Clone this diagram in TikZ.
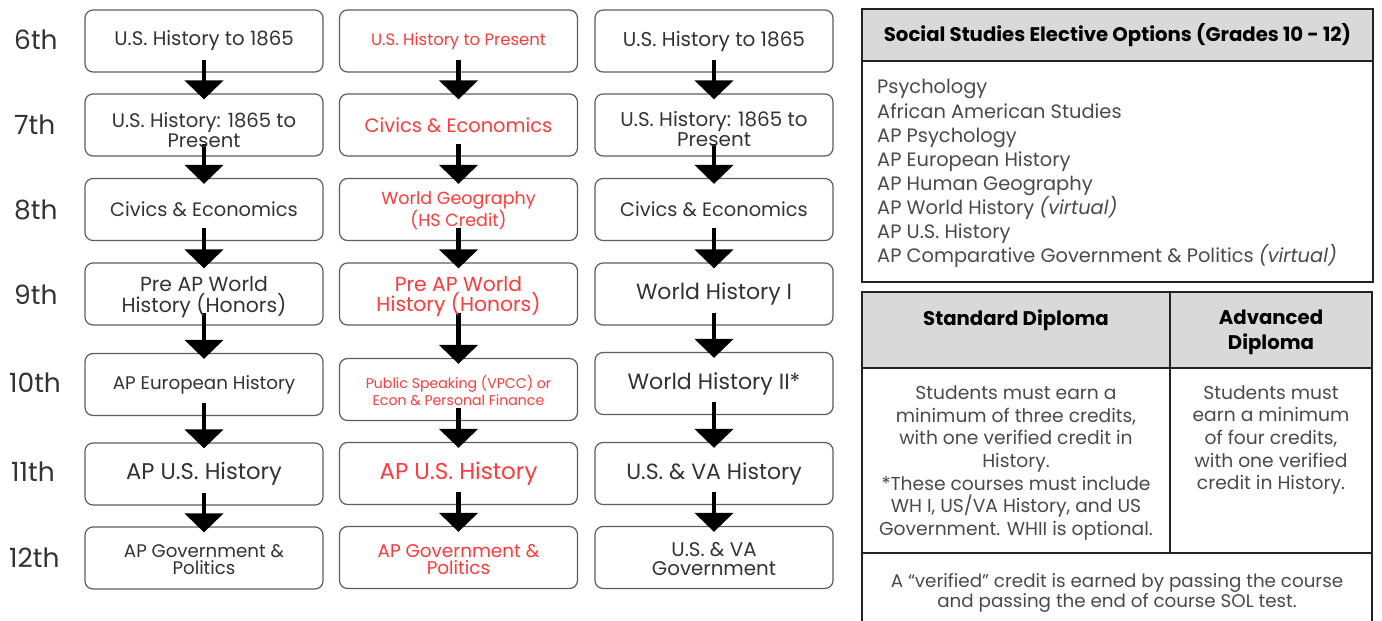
\documentclass[tikz,border=0pt]{standalone}
\usepackage{fontspec}
\setmainfont{Poppins}
\usetikzlibrary{arrows.meta}
\definecolor{txt}{HTML}{333333}
\definecolor{redt}{HTML}{FF3B3B}
\definecolor{boxc}{HTML}{5E5E5E}
\definecolor{hdr}{HTML}{D9D9D9}
\definecolor{tblc}{HTML}{222222}
\definecolor{bodyt}{HTML}{4A4A4A}
\newcommand\myfs[2]{\fontsize{#1}{#2}\selectfont}
\begin{document}
\begin{tikzpicture}[x=1pt,y=-1pt,
  cbox/.style={draw=boxc, line width=1.2pt, rounded corners=8pt, minimum width=238pt, minimum height=62pt, inner sep=0pt},
  ctxt/.style={align=center, inner sep=0pt, text=txt},
  rtxt/.style={ctxt, text=redt},
  grade/.style={anchor=west, text=txt, font=\myfs{26.5}{26.5}, inner sep=0pt},
  bigarrow/.style={line width=4.5pt, -{Triangle[width=38pt,length=19pt]}, black},
  tline/.style={tblc, line width=1.8pt},
  bodytxt/.style={text=bodyt, align=center, font=\myfs{18.7}{22.7}, inner sep=0pt},
  listtxt/.style={text=bodyt, anchor=west, font=\myfs{19.4}{19.4}, inner sep=0pt, text height=14pt, text depth=4pt},
  hdrtxt/.style={text=black, align=center, font=\bfseries\myfs{19.7}{25}, inner sep=0pt}
]
\useasboundingbox (0,0) rectangle (1382,621);
\fill[white] (0,0) rectangle (1382,621);

% grade labels
\node[grade] (g6) at (14,40) {6th};
\node[grade] (g7) at (14,125) {7th};
\node[grade] (g8) at (14,210) {8th};
\node[grade] (g9) at (14,295) {9th};
\node[grade] (g10) at (9,383) {10th};
\node[grade] (g11) at (11,472) {11th};
\node[grade] (g12) at (9,558) {12th};

% boxes
\node[cbox] (a6) at (204,41) {};
\node[cbox] (a7) at (204,125) {};
\node[cbox] (a8) at (204,209.5) {};
\node[cbox] (a9) at (204,294) {};
\node[cbox] (a10) at (204,384.5) {};
\node[cbox] (a11) at (204,474) {};
\node[cbox] (a12) at (204,558) {};
\node[cbox] (b6) at (458.5,41) {};
\node[cbox] (b7) at (458.5,125) {};
\node[cbox] (b8) at (458.5,209.5) {};
\node[cbox] (b9) at (458.5,294) {};
\node[cbox] (b10) at (458.5,389.5) {};
\node[cbox] (b11) at (458.5,473.5) {};
\node[cbox] (b12) at (458.5,557.5) {};
\node[cbox] (c6) at (714,41) {};
\node[cbox] (c7) at (714,125) {};
\node[cbox] (c8) at (714,209.5) {};
\node[cbox] (c9) at (714,294) {};
\node[cbox] (c10) at (714,383.5) {};
\node[cbox] (c11) at (714,473.5) {};
\node[cbox] (c12) at (714,557.5) {};

% arrows
\foreach \col in {a,b,c}{
  \foreach \r/\s in {6/7,7/8,8/9,9/10,10/11,11/12}{
    \draw[bigarrow] ([yshift=13pt]\col\r.south) -- ([yshift=-6pt]\col\s.north);
  }
}

% column 1 texts
\node[ctxt, font=\myfs{19.7}{19.7}] (a6t) at (a6.center) {U.S. History to 1865};
\node[ctxt, font=\myfs{19.6}{17}] (a7t) at ([yshift=-5pt]a7.center) {U.S. History: 1865 to\\Present};
\node[ctxt, font=\myfs{19.4}{19.4}] (a8t) at (a8.center) {Civics \& Economics};
\node[ctxt, font=\myfs{20.4}{18.5}] (a9t) at ([yshift=-3pt]a9.center) {Pre AP World\\History (Honors)};
\node[ctxt, font=\myfs{18.3}{18.3}] (a10t) at (a10.center) {AP European History};
\node[ctxt, font=\myfs{22.7}{22.7}] (a11t) at (a11.center) {AP U.S. History};
\node[ctxt, font=\myfs{18.2}{17}] (a12t) at ([yshift=-2pt]a12.center) {AP Government \&\\Politics};

% column 2 texts
\node[rtxt, font=\myfs{16.5}{16.5}] (b6t) at (b6.center) {U.S. History to Present};
\node[rtxt, font=\myfs{19.4}{19.4}] (b7t) at (b7.center) {Civics \& Economics};
\node[rtxt, font=\myfs{17.5}{17}] (b8t) at ([yshift=-1.5pt]b8.center) {World Geography\\(HS Credit)};
\node[rtxt, font=\myfs{20.3}{18}] (b9t) at ([yshift=-3pt]b9.center) {Pre AP World\\History (Honors)};
\node[rtxt, font=\myfs{14.1}{17}] (b10t) at ([yshift=-1pt]b10.center) {Public Speaking (VPCC) or\\Econ \& Personal Finance};
\node[rtxt, font=\myfs{23}{23}] (b11t) at (b11.center) {AP U.S. History};
\node[rtxt, font=\myfs{18.4}{17}] (b12t) at ([yshift=-2pt]b12.center) {AP Government \&\\Politics};

% column 3 texts
\node[ctxt, font=\myfs{20}{20}] (c6t) at (c6.center) {U.S. History to 1865};
\node[ctxt, font=\myfs{19.9}{18}] (c7t) at ([yshift=-4pt]c7.center) {U.S. History: 1865 to\\Present};
\node[ctxt, font=\myfs{19.4}{19.4}] (c8t) at (c8.center) {Civics \& Economics};
\node[ctxt, font=\myfs{22}{22}] (c9t) at (c9.center) {World History I};
\node[ctxt, font=\myfs{22.1}{22.1}] (c10t) at (c10.center) {World History II*};
\node[ctxt, font=\myfs{22}{22}] (c11t) at (c11.center) {U.S. \& VA History};
\node[ctxt, font=\myfs{19.8}{19}] (c12t) at ([yshift=-2pt]c12.center) {U.S. \& VA\\Government};

% elective table
\fill[hdr] (862,9) rectangle (1373,61);
\draw[tline] (862,9) rectangle (1373,282);
\draw[tline] (862,61) -- (1373,61);
\node[hdrtxt] (elh) at (1117.5,35) {Social Studies Elective Options (Grades 10 - 12)};
\node[listtxt] (e1) at (877,88) {Psychology};
\node[listtxt] (e2) at (877,113) {African American Studies};
\node[listtxt] (e3) at (877,137) {AP Psychology};
\node[listtxt] (e4) at (877,161) {AP European History};
\node[listtxt] (e5) at (877,185) {AP Human Geography};
\node[listtxt] (e6) at (877,209) {AP World History \textit{(virtual)}};
\node[listtxt] (e7) at (877,233) {AP U.S. History};
\node[listtxt] (e8) at (877,257) {AP Comparative Government \& Politics \textit{(virtual)}};

% diploma table
\fill[hdr] (862,292) rectangle (1372,368);
\draw[tline] (862,630) -- (862,292) -- (1372,292) -- (1372,630);
\draw[tline] (862,368) -- (1372,368);
\draw[tline] (862,553) -- (1372,553);
\draw[tline] (1170,292) -- (1170,553);
\node[hdrtxt] (sdh) at (1016,320) {Standard Diploma};
\node[hdrtxt] (adh) at (1271,332) {Advanced\\Diploma};
\node[bodytxt] (sdb) at (1016,463) {Students must earn a\\minimum of three credits,\\with one verified credit in\\History.\\*These courses must include\\WH I, US/VA History, and US\\Government. WHII is optional.};
\node[bodytxt] (adb) at (1271,440) {Students must\\earn a minimum\\of four credits,\\with one verified\\credit in History.};
\node[bodytxt, font=\myfs{18.3}{20}] (vnote) at (1117,593) {A “verified” credit is earned by passing the course\\and passing the end of course SOL test.};
\end{tikzpicture}
\end{document}
